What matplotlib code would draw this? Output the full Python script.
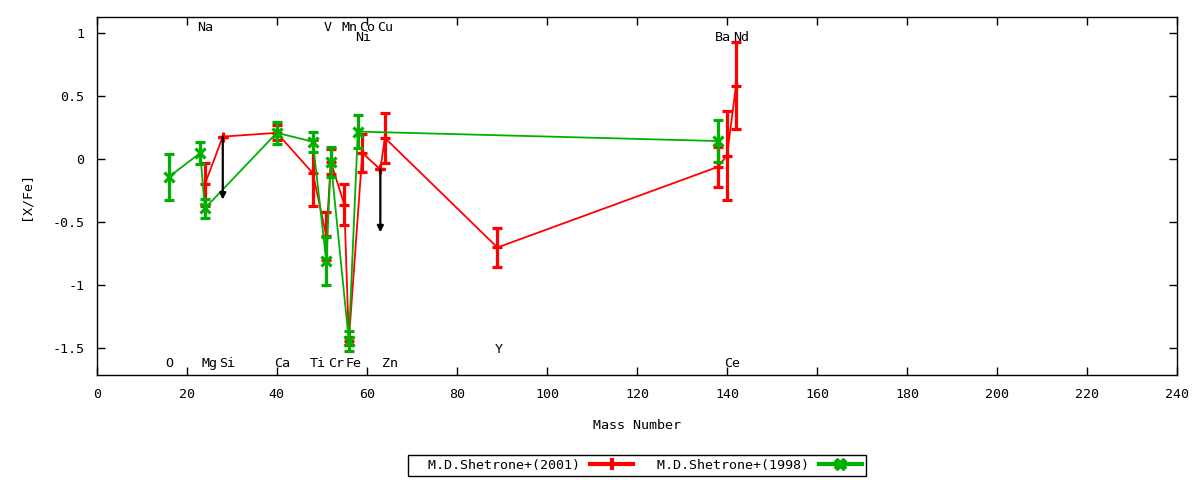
import numpy as np
import matplotlib.pyplot as plt
from matplotlib.lines import Line2D

plt.rcParams['font.family'] = ['DejaVu Sans Mono', 'DejaVu Sans']
plt.rcParams['font.size'] = 9.6

# M.D.Shetrone+(2001)
mass_2001 = [24, 28, 40, 48, 51, 52, 55, 56, 59, 63, 64, 89, 138, 140, 142]
xfe_2001 = [-0.20, 0.18, 0.21, -0.11, -0.61, -0.02, -0.36, -1.44, 0.05,
            -0.08, 0.17, -0.70, -0.06, 0.03, 0.585]
err_2001 = [0.17, 0.0, 0.06, 0.26, 0.19, 0.10, 0.16, 0.03, 0.15,
            0.0, 0.20, 0.155, 0.16, 0.355, 0.345]
# upper limits (drawn as arrows)
ulim_2001 = [False, True, False, False, False, False, False, False, False,
             True, False, False, False, False, False]

# M.D.Shetrone+(1998)
mass_1998 = [16, 23, 24, 40, 48, 51, 52, 56, 58, 138]
xfe_1998 = [-0.14, 0.05, -0.39, 0.21, 0.14, -0.81, -0.02, -1.44, 0.22, 0.145]
err_1998 = [0.185, 0.09, 0.077, 0.09, 0.08, 0.19, 0.12, 0.08, 0.13, 0.17]

# element labels
label_names = ['O', 'Na', 'Mg', 'Si', 'Ca', 'Ti', 'V', 'Cr', 'Mn', 'Fe',
               'Ni', 'Co', 'Cu', 'Zn', 'Y', 'Ba', 'Ce', 'Nd']
label_mass = [16, 23, 24, 28, 40, 48, 51, 52, 55, 56, 58, 59, 63, 64, 89,
              138, 140, 142]
label_y = [-1.62, 1.05, -1.62, -1.62, -1.62, -1.62, 1.05, -1.62, 1.05, -1.62,
           0.97, 1.05, 1.05, -1.62, -1.51, 0.97, -1.62, 0.97]

RED = '#ff0000'
GREEN = '#00b000'
FS = 9.6

fig = plt.figure(figsize=(12, 4.8), dpi=100)
ax = fig.add_axes([0.0806, 0.21875, 0.9004, 0.7452])

ebkw = dict(elinewidth=2.3, capsize=3.3, capthick=2.3, lw=1.3,
            markersize=7, markeredgewidth=2.3)
ax.errorbar(mass_2001, xfe_2001, yerr=err_2001, color=RED, marker='+',
            zorder=2, **ebkw)
ax.errorbar(mass_1998, xfe_1998, yerr=err_1998, color=GREEN, marker='x',
            zorder=3, **ebkw)

# upper limit arrows
for m, v, u in zip(mass_2001, xfe_2001, ulim_2001):
    if u:
        ax.annotate('', xy=(m, v - 0.5), xytext=(m, v),
                    arrowprops=dict(arrowstyle='-|>', color='black', lw=1.6,
                                    mutation_scale=9, shrinkA=0, shrinkB=0),
                    zorder=4)

for name, m, y in zip(label_names, label_mass, label_y):
    ax.text(m - 0.7, y, name, ha='left', va='center', fontsize=FS)

ax.set_xlim(0, 240)
ax.set_ylim(-1.712, 1.127)
ax.set_xticks(np.arange(0, 241, 20))
ax.set_yticks([-1.5, -1, -0.5, 0, 0.5, 1])
ax.set_yticklabels(['-1.5', '-1', '-0.5', '0', '0.5', '1'])
ax.tick_params(direction='in', top=True, right=True, length=6, width=1,
               labelsize=FS, pad=9)
for s in ax.spines.values():
    s.set_linewidth(1)
ax.set_xlabel('Mass Number', fontsize=FS, labelpad=13)
ax.set_ylabel('[X/Fe]', fontsize=FS, labelpad=14)

h1 = Line2D([0], [0], color=RED, lw=3, marker='|', markersize=9, mew=3)
h2 = Line2D([0], [0], color=GREEN, lw=3, marker='X', markersize=8, mew=1)
leg = ax.legend([h1, h2], ['  M.D.Shetrone+(2001)', '  M.D.Shetrone+(1998)'],
                loc='center', bbox_to_anchor=(0.5, -0.252), ncol=2,
                markerfirst=False, fancybox=False, framealpha=1,
                edgecolor='black', fontsize=FS, handlelength=3.2,
                columnspacing=0.6, borderpad=0.3, handletextpad=0.75,
                borderaxespad=0)
leg.get_frame().set_linewidth(1)

fig.savefig('out.png', dpi=100)
